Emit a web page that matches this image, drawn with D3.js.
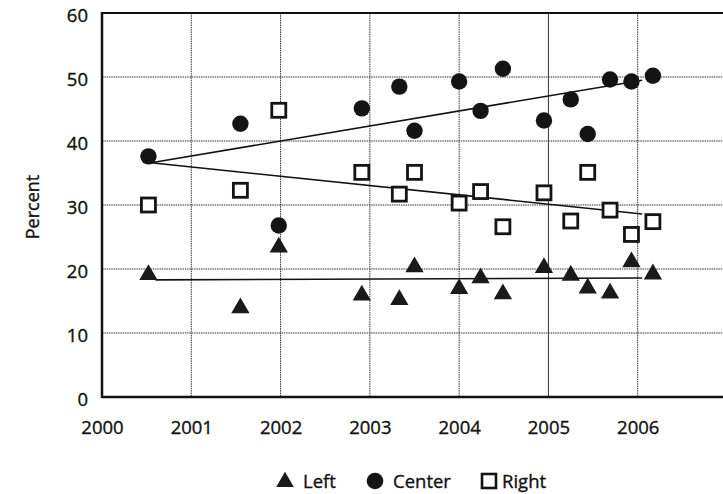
<!DOCTYPE html>
<html><head><meta charset="utf-8">
<script src="https://cdn.jsdelivr.net/npm/d3@7"></script>
<style>body{margin:0;background:#fff}svg{display:block}text{font-family:"Open Sans",sans-serif;fill:#111;stroke:#111;stroke-width:0.35px}</style>
</head><body><svg id="c" width="723" height="494"></svg>
<script>
const xTicks = [2000, 2001, 2002, 2003, 2004, 2005, 2006];
const yTicks = [0, 10, 20, 30, 40, 50, 60];
const years = [2000.52, 2001.55, 2001.98, 2002.91, 2003.33, 2003.5, 2004.0, 2004.24, 2004.49, 2004.95, 2005.25, 2005.44, 2005.69, 2005.93, 2006.17];
const leftVals = [19.1, 13.9, 23.4, 15.9, 15.2, 20.3, 16.9, 18.6, 16.1, 20.2, 19.0, 17.0, 16.2, 21.1, 19.2];
const centerVals = [37.6, 42.7, 26.8, 45.1, 48.5, 41.6, 49.3, 44.7, 51.3, 43.2, 46.5, 41.1, 49.6, 49.3, 50.2];
const rightVals = [30.0, 32.3, 44.8, 35.1, 31.7, 35.1, 30.3, 32.1, 26.6, 31.9, 27.5, 35.1, 29.2, 25.4, 27.4];
const leftTrend = [[2000.6, 18.3], [2006.05, 18.6]];
const centerTrend = [[2000.55, 36.6], [2006.05, 49.5]];
const rightTrend = [[2000.55, 36.6], [2006.05, 28.6]];
const legendLabels = ["Left", "Center", "Right"];

const svg = d3.select("#c");
const x = d3.scaleLinear().domain([2000, 2007]).range([102, 727]);
const y = d3.scaleLinear().domain([0, 60]).range([397, 13]);

// gridlines
const g = svg.append("g");
g.selectAll(".hg").data(yTicks.filter(d => d > 0 && d < 60)).join("line")
  .attr("x1", x(2000)).attr("x2", 723).attr("y1", d => y(d)).attr("y2", d => y(d))
  .attr("stroke", "#333").attr("stroke-width", 1).attr("stroke-dasharray", "1.5,0.8");
g.selectAll(".vg").data(xTicks.filter(d => d > 2000)).join("line")
  .attr("x1", d => x(d)).attr("x2", d => x(d)).attr("y1", y(60)).attr("y2", y(0))
  .attr("stroke", "#333").attr("stroke-width", 1).attr("stroke-dasharray", d => d === 2005 ? null : "1.5,0.8");

// frame
svg.append("line").attr("x1", x(2000)).attr("x2", 723).attr("y1", y(60)).attr("y2", y(60)).attr("stroke", "#111").attr("stroke-width", 2);
svg.append("line").attr("x1", x(2000)).attr("x2", 723).attr("y1", y(0)).attr("y2", y(0)).attr("stroke", "#111").attr("stroke-width", 2.5);
svg.append("line").attr("x1", x(2000)).attr("x2", x(2000)).attr("y1", y(60) - 1).attr("y2", y(0) + 1).attr("stroke", "#111").attr("stroke-width", 2.5);

// axes labels
const yAxis = d3.axisLeft(y).tickValues(yTicks).tickSize(0).tickPadding(14);
const ya = svg.append("g").attr("transform", `translate(${x(2000)},0)`).call(yAxis);
ya.select(".domain").remove();
ya.selectAll("text").style("font-size", "18.5px").attr("fill", "#111").attr("dy", "0.45em");
const xAxis = d3.axisBottom(x).tickValues(xTicks).tickFormat(d3.format("d")).tickSize(0).tickPadding(24);
const xa = svg.append("g").attr("transform", `translate(0,${y(0)})`).call(xAxis);
xa.select(".domain").remove();
xa.selectAll("text").style("font-size", "18.5px").attr("fill", "#111");

svg.append("text").attr("transform", "translate(39,207) rotate(-90)").attr("text-anchor", "middle")
  .style("font-size", "18px").text("Percent");

// trend lines
const line = d3.line().x(d => x(d[0])).y(d => y(d[1]));
[leftTrend, centerTrend, rightTrend].forEach(t => {
  svg.append("path").attr("d", line(t)).attr("fill", "none").attr("stroke", "#111").attr("stroke-width", 1.6);
});

// markers
const tri = d3.symbol().type(d3.symbolTriangle).size(145);
const data = years.map((yr, i) => ({yr, l: leftVals[i], c: centerVals[i], r: rightVals[i]}));
svg.append("g").selectAll("path").data(data).join("path")
  .attr("d", tri).attr("transform", d => `translate(${x(d.yr)},${y(d.l)})`).attr("fill", "#1a1a1a");
svg.append("g").selectAll("circle").data(data).join("circle")
  .attr("cx", d => x(d.yr)).attr("cy", d => y(d.c)).attr("r", 8.2).attr("fill", "#141414");
svg.append("g").selectAll("rect").data(data).join("rect")
  .attr("x", d => x(d.yr) - 7).attr("y", d => y(d.r) - 7).attr("width", 14).attr("height", 14)
  .attr("fill", "#fff").attr("stroke", "#141414").attr("stroke-width", 2.8);

// legend
const lg = svg.append("g");
lg.append("path").attr("d", d3.symbol().type(d3.symbolTriangle).size(135)()).attr("transform", "translate(285,482)").attr("fill", "#1a1a1a");
lg.append("text").attr("x", 303).attr("y", 488).style("font-size", "18.5px").text(legendLabels[0]);
lg.append("circle").attr("cx", 375).attr("cy", 481).attr("r", 8.3).attr("fill", "#141414");
lg.append("text").attr("x", 393).attr("y", 488).style("font-size", "18.5px").text(legendLabels[1]);
lg.append("rect").attr("x", 482).attr("y", 474).attr("width", 14).attr("height", 14).attr("fill", "#fff").attr("stroke", "#141414").attr("stroke-width", 2.6);
lg.append("text").attr("x", 502).attr("y", 488).style("font-size", "18.5px").text(legendLabels[2]);
</script></body></html>
